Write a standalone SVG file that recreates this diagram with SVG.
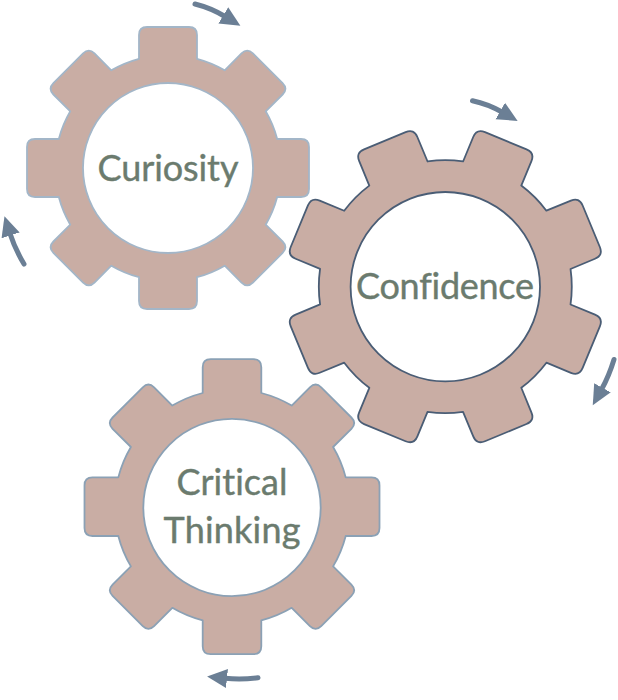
<svg xmlns="http://www.w3.org/2000/svg" width="618" height="700" viewBox="0 0 618 700">
<style>
.gear{fill:#c9ada4;stroke-linejoin:round}
.hole{fill:#fff}
.g1{stroke:#a3b6c8;stroke-width:1.8}
.g2{stroke:#4a5d75;stroke-width:1.8}
.g3{stroke:#8ba1b5;stroke-width:1.8}
.label{font-family:"Lato","Noto Sans",sans-serif;font-size:36px;fill:#6b7b6e;stroke:#6b7b6e;stroke-width:.4;text-anchor:middle;font-variant-ligatures:none}
.arrow{fill:none;stroke:#6b7f95;stroke-width:5;stroke-linecap:round;marker-end:url(#head)}
</style>
<defs>
<marker id="head" markerUnits="userSpaceOnUse" markerWidth="22" markerHeight="22" refX="2" refY="11" orient="auto" viewBox="0 0 22 22">
<path d="M0,1.500L20,11L0,20.500Z" fill="#6b7f95"/>
</marker>
</defs>
<g id="connectors">
<path class="arrow" d="M195,4Q211,8 225,16.500"/>
<path class="arrow" d="M472.500,100.700Q488,104 502,112"/>
<path class="arrow" d="M614,359.500Q609,376 601.500,389.500"/>
<path class="arrow" d="M258,677.800Q241,680 225,678.300"/>
<path class="arrow" d="M24,264Q15,249 10,233.500"/>
</g>
<g id="curiosity">
<path class="gear g1" transform="translate(168,168)" d="M-29,-109.200V-133Q-29,-141 -21,-141H21Q29,-141 29,-133V-109.200A113,113 0 0 1 56.700,-97.700L73.500,-114.600Q79.200,-120.200 84.900,-114.600L114.600,-84.900Q120.200,-79.200 114.600,-73.500L97.700,-56.700A113,113 0 0 1 109.200,-29H133Q141,-29 141,-21V21Q141,29 133,29H109.200A113,113 0 0 1 97.700,56.700L114.600,73.500Q120.200,79.200 114.600,84.900L84.900,114.600Q79.200,120.200 73.500,114.600L56.700,97.700A113,113 0 0 1 29,109.200V133Q29,141 21,141H-21Q-29,141 -29,133V109.200A113,113 0 0 1 -56.700,97.700L-73.500,114.600Q-79.200,120.200 -84.900,114.600L-114.600,84.900Q-120.200,79.200 -114.600,73.500L-97.700,56.700A113,113 0 0 1 -109.200,29H-133Q-141,29 -141,21V-21Q-141,-29 -133,-29H-109.200A113,113 0 0 1 -97.700,-56.700L-114.600,-73.500Q-120.200,-79.200 -114.600,-84.900L-84.900,-114.600Q-79.200,-120.200 -73.500,-114.600L-56.700,-97.700A113,113 0 0 1 -29,-109.200Z"/>
<circle class="hole g1" cx="168" cy="168" r="85"/>
<text class="label" x="168" y="180.500" textLength="141">Curiosity</text>
</g>
<g id="confidence">
<path class="gear g2" transform="translate(445.300,286.700) rotate(22.500)" d="M-31.500,-122.500V-149Q-31.500,-158 -22.500,-158H22.500Q31.500,-158 31.500,-149V-122.500A126.500,126.500 0 0 1 64.300,-108.900L83.100,-127.600Q89.400,-134 95.800,-127.600L127.600,-95.800Q134,-89.400 127.600,-83.100L108.900,-64.300A126.500,126.500 0 0 1 122.500,-31.500H149Q158,-31.500 158,-22.500V22.500Q158,31.500 149,31.500H122.500A126.500,126.500 0 0 1 108.900,64.300L127.600,83.100Q134,89.400 127.600,95.800L95.800,127.600Q89.400,134 83.100,127.600L64.300,108.900A126.500,126.500 0 0 1 31.500,122.500V149Q31.500,158 22.500,158H-22.500Q-31.500,158 -31.500,149V122.500A126.500,126.500 0 0 1 -64.300,108.900L-83.100,127.600Q-89.400,134 -95.800,127.600L-127.600,95.800Q-134,89.400 -127.600,83.100L-108.900,64.300A126.500,126.500 0 0 1 -122.500,31.500H-149Q-158,31.500 -158,22.500V-22.500Q-158,-31.500 -149,-31.500H-122.500A126.500,126.500 0 0 1 -108.900,-64.300L-127.600,-83.100Q-134,-89.400 -127.600,-95.800L-95.800,-127.600Q-89.400,-134 -83.100,-127.600L-64.300,-108.900A126.500,126.500 0 0 1 -31.500,-122.500Z"/>
<circle class="hole g2" cx="445.300" cy="286.700" r="94.700"/>
<text class="label" x="445" y="298.500" textLength="178">Confidence</text>
</g>
<g id="critical-thinking">
<path class="gear g3" transform="translate(232,506.700)" d="M-29.300,-113.700V-139.500Q-29.300,-147.500 -21.300,-147.500H21.300Q29.300,-147.500 29.300,-139.500V-113.700A117.400,117.400 0 0 1 59.700,-101.100L77.900,-119.400Q83.600,-125 89.200,-119.400L119.400,-89.200Q125,-83.600 119.400,-77.900L101.100,-59.700A117.400,117.400 0 0 1 113.700,-29.300H139.500Q147.500,-29.300 147.500,-21.300V21.300Q147.500,29.300 139.500,29.300H113.700A117.400,117.400 0 0 1 101.100,59.700L119.400,77.900Q125,83.600 119.400,89.200L89.200,119.400Q83.600,125 77.900,119.400L59.700,101.100A117.400,117.400 0 0 1 29.300,113.700V139.500Q29.300,147.500 21.300,147.500H-21.300Q-29.300,147.500 -29.300,139.500V113.700A117.400,117.400 0 0 1 -59.700,101.100L-77.900,119.400Q-83.600,125 -89.200,119.400L-119.400,89.200Q-125,83.600 -119.400,77.900L-101.100,59.700A117.400,117.400 0 0 1 -113.700,29.300H-139.500Q-147.500,29.300 -147.500,21.300V-21.300Q-147.500,-29.300 -139.500,-29.300H-113.700A117.400,117.400 0 0 1 -101.100,-59.700L-119.400,-77.900Q-125,-83.600 -119.400,-89.200L-89.200,-119.400Q-83.600,-125 -77.900,-119.400L-59.700,-101.100A117.400,117.400 0 0 1 -29.300,-113.700Z"/>
<circle class="hole g3" cx="232" cy="507.500" r="88.700"/>
<text class="label" x="232" y="495" textLength="111">Critical</text>
<text class="label" x="232" y="543" textLength="137">Thinking</text>
</g>
</svg>
